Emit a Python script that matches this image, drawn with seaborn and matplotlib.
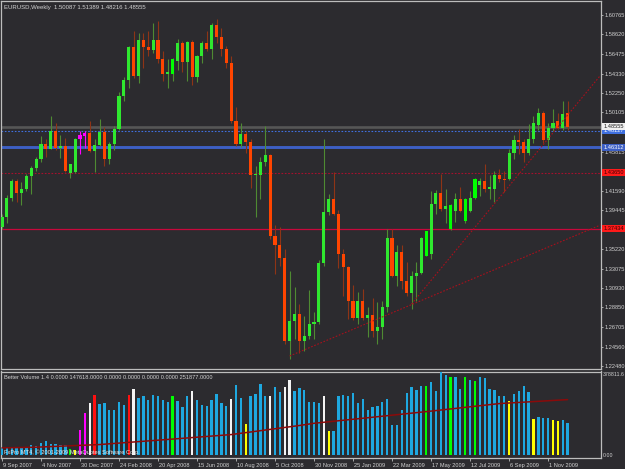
import numpy as np
import pandas as pd
import matplotlib
matplotlib.use('Agg')
import matplotlib.pyplot as plt
import matplotlib.transforms as mtransforms
import seaborn as sns

sns.set_theme(style='dark')
plt.rcParams['font.family'] = ['Liberation Sans', 'DejaVu Sans']

# weekly EURUSD bars (bar 0 = week of 9 Sep 2007)
opens = [1.3758, 1.3867, 1.4076, 1.4264, 1.4127, 1.4173, 1.4319, 1.4403, 1.4505, 1.4664,
         1.4617, 1.4809, 1.4628, 1.4650, 1.4350, 1.4362, 1.4718, 1.4752, 1.4790, 1.4591,
         1.4660, 1.4798, 1.4508, 1.4665, 1.4835, 1.5190, 1.5361, 1.5724, 1.5408, 1.5796,
         1.5725, 1.5688, 1.5796, 1.5597, 1.5426, 1.5430, 1.5570, 1.5771, 1.5560, 1.5775,
         1.5401, 1.5626, 1.5771, 1.5699, 1.5960, 1.5837, 1.5706, 1.5554, 1.4917, 1.4664,
         1.4780, 1.4689, 1.4326, 1.4326, 1.4475, 1.4547, 1.3658, 1.3563, 1.3418, 1.2521,
         1.2739, 1.2814, 1.2521, 1.2573, 1.2703, 1.2725, 1.3364, 1.3930, 1.4064, 1.3901,
         1.3465, 1.3327, 1.2957, 1.2766, 1.2957, 1.2766, 1.2803, 1.2622, 1.2672, 1.2889,
         1.3640, 1.3222, 1.3491, 1.3175, 1.3041, 1.3229, 1.3258, 1.3449, 1.3465, 1.4017,
         1.4137, 1.3963, 1.3738, 1.3937, 1.4065, 1.3828, 1.3937, 1.4083, 1.4217, 1.4264,
         1.4173, 1.4180, 1.4326, 1.4290, 1.4282, 1.4574, 1.4711, 1.4690, 1.4566, 1.4726,
         1.4871, 1.5009, 1.4711, 1.4845, 1.4915, 1.4846, 1.50087]
highs = [1.3900, 1.4108, 1.4282, 1.4282, 1.4250, 1.4340, 1.4430, 1.4520, 1.4754, 1.4720,
         1.4972, 1.4900, 1.4770, 1.4736, 1.4450, 1.4730, 1.4809, 1.4809, 1.4916, 1.4720,
         1.4944, 1.4850, 1.4690, 1.4860, 1.5230, 1.5400, 1.5735, 1.5898, 1.5881, 1.5880,
         1.5900, 1.5982, 1.6007, 1.5680, 1.5590, 1.5610, 1.5810, 1.5790, 1.5790, 1.5800,
         1.5640, 1.5790, 1.5900, 1.5982, 1.6033, 1.5935, 1.5740, 1.5626, 1.5070, 1.4900,
         1.4810, 1.4720, 1.4428, 1.4530, 1.4863, 1.4555, 1.3781, 1.3756, 1.3520, 1.3283,
         1.3108, 1.2923, 1.2792, 1.3076, 1.2837, 1.3403, 1.4718, 1.4119, 1.4356, 1.3950,
         1.3520, 1.3340, 1.3130, 1.3055, 1.3085, 1.2889, 1.2987, 1.2943, 1.2957, 1.3738,
         1.3738, 1.3563, 1.3570, 1.3375, 1.3283, 1.3375, 1.3654, 1.3720, 1.4155, 1.4160,
         1.4337, 1.4173, 1.4010, 1.4137, 1.4193, 1.4075, 1.4155, 1.4301, 1.4301, 1.4446,
         1.4326, 1.4373, 1.4399, 1.4373, 1.4617, 1.4762, 1.4835, 1.4718, 1.4882, 1.4972,
         1.5063, 1.5026, 1.4900, 1.5045, 1.5009, 1.5135, 1.51389]
lows = [1.3738, 1.3803, 1.4050, 1.4030, 1.4000, 1.4150, 1.4119, 1.4370, 1.4470, 1.4520,
        1.4609, 1.4600, 1.4510, 1.4360, 1.4300, 1.4350, 1.4555, 1.4628, 1.4580, 1.4356,
        1.4650, 1.4430, 1.4446, 1.4600, 1.4820, 1.5140, 1.5280, 1.5390, 1.5336, 1.5499,
        1.5630, 1.5660, 1.5546, 1.5353, 1.5281, 1.5350, 1.5470, 1.5450, 1.5355, 1.5306,
        1.5340, 1.5555, 1.5680, 1.5597, 1.5770, 1.5625, 1.5500, 1.4900, 1.4640, 1.4630,
        1.4570, 1.4192, 1.3865, 1.4065, 1.4430, 1.3630, 1.3248, 1.3338, 1.2485, 1.2322,
        1.2540, 1.2388, 1.2412, 1.2540, 1.2540, 1.2700, 1.3340, 1.3890, 1.3890, 1.3309,
        1.3011, 1.2758, 1.2750, 1.2703, 1.2750, 1.2556, 1.2556, 1.2490, 1.2540, 1.2834,
        1.3211, 1.3114, 1.3085, 1.3012, 1.2866, 1.2957, 1.3247, 1.3440, 1.3411, 1.3901,
        1.3937, 1.3804, 1.3730, 1.3818, 1.3921, 1.3810, 1.3921, 1.4070, 1.4100, 1.4144,
        1.4072, 1.4035, 1.4253, 1.4144, 1.4270, 1.4508, 1.4555, 1.4465, 1.4550, 1.4682,
        1.4816, 1.4682, 1.4617, 1.4809, 1.4827, 1.4820, 1.48216]
closes = [1.3867, 1.4076, 1.4264, 1.4127, 1.4173, 1.4319, 1.4403, 1.4505, 1.4664, 1.4617,
          1.4809, 1.4628, 1.4650, 1.4373, 1.4446, 1.4718, 1.4760, 1.4790, 1.4591, 1.4660,
          1.4798, 1.4508, 1.4665, 1.4835, 1.5190, 1.5361, 1.5724, 1.5408, 1.5796, 1.5725,
          1.5688, 1.5796, 1.5597, 1.5426, 1.5450, 1.5597, 1.5771, 1.5560, 1.5775, 1.5401,
          1.5626, 1.5771, 1.5699, 1.5960, 1.5837, 1.5706, 1.5554, 1.4917, 1.4664, 1.4780,
          1.4689, 1.4326, 1.4340, 1.4475, 1.4547, 1.3658, 1.3563, 1.3418, 1.2521, 1.2739,
          1.2814, 1.2521, 1.2573, 1.2703, 1.2725, 1.3364, 1.3930, 1.4064, 1.3901, 1.3465,
          1.3327, 1.2957, 1.2766, 1.2957, 1.2766, 1.2803, 1.2622, 1.2672, 1.2889, 1.3640,
          1.3222, 1.3491, 1.3175, 1.3041, 1.3229, 1.3258, 1.3640, 1.3713, 1.4017, 1.4137,
          1.3963, 1.3991, 1.3999, 1.4065, 1.3937, 1.4065, 1.4083, 1.4282, 1.4264, 1.4173,
          1.4198, 1.4326, 1.4290, 1.4270, 1.4574, 1.4711, 1.4690, 1.4566, 1.4726, 1.4900,
          1.5009, 1.4711, 1.4845, 1.4900, 1.4846, 1.4995, 1.48555]

# bars painted by the volume indicator
painted_green = [35, 87, 92, 95, 97]
painted_magenta = [16, 17]

# Better Volume histogram (tick volume) and its colour class
volumes = [34e3, 34e3, 34e3, 40e3, 40e3, 40e3, 48e3, 43e3, 55e3, 63e3,
           52e3, 52e3, 49e3, 49e3, 30e3, 25e3, 116e3, 191e3, 236e3, 274e3,
           230e3, 236e3, 206e3, 203e3, 240e3, 228e3, 274e3, 301e3, 260e3, 270e3,
           248e3, 274e3, 270e3, 252e3, 243e3, 266e3, 245e3, 218e3, 270e3, 293e3,
           248e3, 228e3, 225e3, 251e3, 278e3, 236e3, 221e3, 256e3, 316e3, 260e3,
           143e3, 266e3, 278e3, 323e3, 266e3, 270e3, 308e3, 285e3, 311e3, 341e3,
           293e3, 303e3, 296e3, 240e3, 240e3, 236e3, 270e3, 108e3, 112e3, 266e3,
           274e3, 266e3, 283e3, 237e3, 256e3, 207e3, 218e3, 222e3, 240e3, 256e3,
           138e3, 138e3, 203e3, 281e3, 308e3, 296e3, 315e3, 315e3, 333e3, 292e3,
           375e3, 364e3, 356e3, 352e3, 301e3, 352e3, 341e3, 336e3, 352e3, 348e3,
           301e3, 296e3, 270e3, 270e3, 244e3, 276e3, 292e3, 312e3, 284e3, 166e3,
           173e3, 171e3, 171e3, 158e3, 155e3, 158e3, 147618]
vol_kind = ['blue'] * len(volumes)
for i in [19, 26]:
    vol_kind[i] = 'red'
for i in [18, 27, 39, 47, 55, 58, 59, 66]:
    vol_kind[i] = 'white'
for i in [15, 50, 67, 104, 109, 113, 114]:
    vol_kind[i] = 'yellow'
for i in [14, 35, 87, 92, 95, 97]:
    vol_kind[i] = 'green'
for i in [16, 17]:
    vol_kind[i] = 'magenta'

ma_bar = [0, 7, 20, 34, 47, 61, 64, 75, 88, 102, 116]
ma_vol = [34e3, 37e3, 49e3, 72e3, 94e3, 135e3, 145e3, 170e3, 200e3, 234e3, 251877]

price_ticks = [1.60765, 1.58620, 1.56475, 1.54330, 1.52250, 1.50105, 1.45815,
               1.41590, 1.39445, 1.35220, 1.33075, 1.30930, 1.28850, 1.26705,
               1.24560, 1.22480]
date_ticks = ['9 Sep 2007', '4 Nov 2007', '30 Dec 2007', '24 Feb 2008', '20 Apr 2008',
              '15 Jun 2008', '10 Aug 2008', '5 Oct 2008', '30 Nov 2008', '25 Jan 2009',
              '22 Mar 2009', '17 May 2009', '12 Jul 2009', '6 Sep 2009', '1 Nov 2009']

# horizontal levels and trend lines
bid = 1.48555
blue_dot_level = 1.48127
blue_level = 1.46312
red_dot_level = 1.43550
red_level = 1.37434
trend1 = ([59.0, 122.75], [1.2354, 1.3783])
trend2 = ([84.0, 122.75], [1.2921, 1.5416])

bg = '#2c2b2f'
fg = '#d2d2d2'
frame = '#bdbdbd'
fs = 4.1
W, H = 625, 469
fig = plt.figure(figsize=(W / 100, H / 100), dpi=100, facecolor=bg)

def px_axes(x0, y0, x1, y1):
    return fig.add_axes([x0 / W, 1 - y1 / H, (x1 - x0) / W, (y1 - y0) / H])

ax = px_axes(1.5, 1.5, 600.5, 369)
axv = px_axes(1.5, 371.5, 600.5, 457.5)
for a in (ax, axv):
    a.set_facecolor(bg)
    for s in a.spines.values():
        s.set_color(frame)
        s.set_linewidth(0.9)
    a.grid(False)

n = len(opens)
xs = np.arange(n)
o = np.array(opens); c = np.array(closes); hi = np.array(highs); lo = np.array(lows)
up = c >= o
body_col = np.where(up, '#2fe82f', '#ff4500').astype(object)
wick_col = np.where(up, '#4f8a32', '#8e3416').astype(object)
for i in painted_green:
    body_col[i] = '#00ff00'
for i in painted_magenta:
    body_col[i] = '#ff00ff'
    wick_col[i] = '#ff00ff'

ax.vlines(xs, lo, hi, colors=list(wick_col), linewidth=0.8, zorder=3)
body_h = np.maximum(np.abs(c - o), 0.0012)
ax.bar(xs, body_h, bottom=np.minimum(o, c), width=0.64, color=list(body_col),
       linewidth=0, zorder=4)

# levels
ax.axhline(bid, color='#565656', lw=1.9, zorder=2)
ax.axhline(blue_dot_level, color='#4070e0', lw=0.8, ls=(0, (1.5, 1.5)), zorder=2)
ax.axhline(blue_level, color='#3d5fc4', lw=2.1, zorder=2)
ax.axhline(red_dot_level, color='#a8102e', lw=0.8, ls=(0, (1.5, 1.5)), zorder=2)
ax.axhline(red_level, color='#c8083c', lw=0.9, zorder=2)
ax.plot(*trend1, color='#a8101c', lw=0.8, ls=(0, (1.5, 1.5)), zorder=5)
ax.plot(*trend2, color='#a8101c', lw=0.8, ls=(0, (1.5, 1.5)), zorder=5)

ax.set_xlim(-0.1, 122.75)
ax.set_ylim(1.22120, 1.62214)
ax.set_xticks([])
ax.yaxis.tick_right()
ax.set_yticks(price_ticks)
ax.set_yticklabels([f'{p:.5f}' for p in price_ticks])
ax.tick_params(axis='y', colors=frame, labelcolor=fg, labelsize=fs, length=1.6, width=0.6, pad=1.0,
               right=True)

# axis price boxes
tr = mtransforms.blended_transform_factory(ax.transAxes, ax.transData)
boxes = [(blue_level, '1.46312', '#3d5fc4', 'white'),
         (red_dot_level, '1.43650', '#ff1a1a', '#400000'),
         (red_level, '1.37434', '#ff1a1a', '#400000'),
         (blue_dot_level, '1.48127', '#4070e0', 'white'),
         (bid, '1.48555', '#f0f0f0', '#202020')]
for price, txt, fc, tc in boxes:
    ax.text(1.0045, price, txt, transform=tr, ha='left', va='center', fontsize=fs, color=tc,
            bbox=dict(boxstyle='square,pad=0.2', fc=fc, ec='none'), clip_on=False, zorder=10)

fig.text(4 / W, 1 - 7.5 / H, 'EURUSD,Weekly  1.50087 1.51389 1.48216 1.48555',
         color=fg, fontsize=fs + 0.2, ha='left', va='center')

# volume panel
vol_pal = {'blue': '#1ea8e0', 'red': '#ff1010', 'white': '#f4f4f4', 'yellow': '#ffff00',
           'green': '#00ff00', 'magenta': '#ff00ff'}
vdf = pd.DataFrame({'bar': xs, 'volume': volumes, 'kind': vol_kind})
sns.barplot(data=vdf, x='bar', y='volume', hue='kind', palette=vol_pal, dodge=False,
            native_scale=True, width=0.48, saturation=1, errorbar=None, legend=False,
            linewidth=0, ax=axv, zorder=3)
sns.lineplot(x=ma_bar, y=ma_vol, color='#8b0a0a', lw=1.1, ax=axv, zorder=4)
axv.set_xlim(-0.1, 122.75)
axv.set_ylim(-9500, 378811.6)
axv.set_yticks([])
axv.set_xlabel('')
axv.set_ylabel('')
axv.set_xticks(np.arange(0, 113, 8))
axv.set_xticklabels(date_ticks)
axv.tick_params(axis='x', colors=frame, labelcolor=fg, labelsize=fs, length=2.5, width=0.6,
                pad=1.5, bottom=True)
for lbl in axv.get_xticklabels():
    lbl.set_ha('left')
    lbl.set_transform(lbl.get_transform() + mtransforms.ScaledTranslation(1.2 / 100, 0, fig.dpi_scale_trans))

vtr = mtransforms.blended_transform_factory(axv.transAxes, axv.transData)
axv.text(1.004, 378811.6, '378811.6', transform=vtr,
         ha='left', va='top', fontsize=3.8, color=fg, clip_on=False)
axv.text(1.004, 0, '0.00', transform=vtr,
         ha='left', va='center', fontsize=3.8, color=fg, clip_on=False)
axv.text(3 / 599, 0.96, 'Better Volume 1.4 0.0000 147618.0000 0.0000 0.0000 0.0000 0.0000 251877.0000',
         transform=axv.transAxes, ha='left', va='top', fontsize=fs, color=fg, zorder=6)
axv.text(3 / 599, 0.025, 'FxPro MT4, \u00a9 2001-2009 MetaQuotes Software Corp.',
         transform=axv.transAxes, ha='left', va='bottom', fontsize=fs, color='#e8e8e8', zorder=6)

fig.savefig('out.png', dpi=100, facecolor=bg)
